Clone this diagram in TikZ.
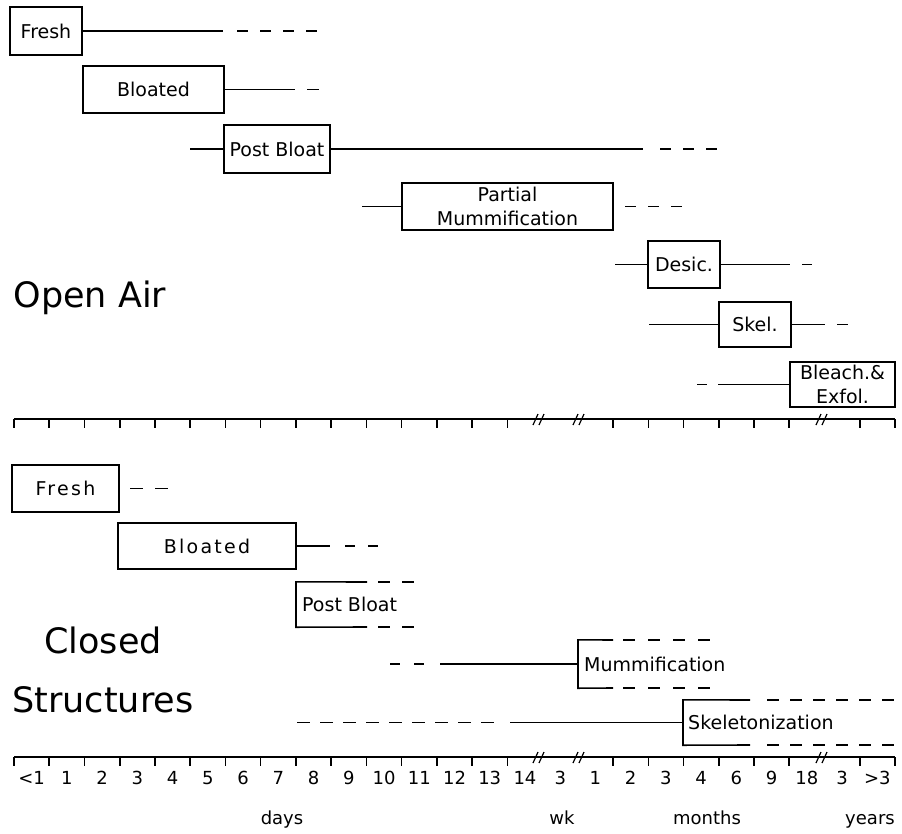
\documentclass[tikz,border=0pt]{standalone}
\usepackage{fontspec}
\setmainfont{DejaVu Sans}
\newfontfamily\spacedfont[LetterSpace=12]{DejaVu Sans}
\begin{document}
\begin{tikzpicture}[x=1pt,y=-1pt,
  box/.style={draw, line width=1.6pt, inner sep=0pt, font=\fontsize{19}{24}\selectfont, align=center},
  obox/.style={inner ysep=0pt, inner xsep=6pt, anchor=west, font=\fontsize{19}{24}\selectfont},
  boxln/.style={line width=1.6pt},
  ln/.style={line width=1.4pt},
  dsh/.style={line width=1.4pt, dash pattern=on 11pt off 12pt},
  big/.style={font=\fontsize{35}{40}\selectfont},
  lab/.style={font=\fontsize{18}{20}\selectfont, anchor=base, inner sep=0pt},
  axis/.style={line width=1.6pt}]
\useasboundingbox (0,0) rectangle (902,833);

% ---------------- Open Air ----------------
\node[big] (openair) at (90,298) {Open Air};

\node[box, minimum width=72pt, minimum height=48pt] (oFresh) at (46,31) {Fresh};
\coordinate (oFa) at (223,31); \coordinate (oFb) at (237,31); \coordinate (oFc) at (318,31);
\draw[ln] (oFresh.east) -- (oFa);
\draw[dsh] (oFb) -- (oFc);

\node[box, minimum width=141pt, minimum height=47pt] (oBloat) at (153.5,89.5) {Bloated};
\coordinate (oBa) at (295,89.5); \coordinate (oBb) at (307,89.5); \coordinate (oBc) at (319,89.5);
\draw[ln] (oBloat.east) -- (oBa);
\draw[ln] (oBb) -- (oBc);

\node[box, minimum width=106pt, minimum height=48pt] (oPost) at (277,149) {Post Bloat};
\coordinate (oPl) at (190,149); \coordinate (oPa) at (643,149); \coordinate (oPb) at (660,149); \coordinate (oPc) at (718,149);
\draw[ln] (oPl) -- (oPost.west);
\draw[ln] (oPost.east) -- (oPa);
\draw[dsh] (oPb) -- (oPc);

\node[box, minimum width=211pt, minimum height=47pt] (oPart) at (507.5,206.5) {Partial\\Mummification};
\coordinate (oMl) at (362,206.5); \coordinate (oMb) at (625,206.5); \coordinate (oMc) at (684,206.5);
\draw[ln] (oMl) -- (oPart.west);
\draw[dsh] (oMb) -- (oMc);

\node[box, minimum width=72pt, minimum height=47pt] (oDesic) at (684,264.5) {Desic.};
\coordinate (oDl) at (615,264.5); \coordinate (oDa) at (790,264.5); \coordinate (oDb) at (802,264.5); \coordinate (oDc) at (812,264.5);
\draw[ln] (oDl) -- (oDesic.west);
\draw[ln] (oDesic.east) -- (oDa);
\draw[ln] (oDb) -- (oDc);

\node[box, minimum width=72pt, minimum height=45pt] (oSkel) at (755,324.5) {Skel.};
\coordinate (oSl) at (649,324.5); \coordinate (oSa) at (825,324.5); \coordinate (oSb) at (837,324.5); \coordinate (oSc) at (848,324.5);
\draw[ln] (oSl) -- (oSkel.west);
\draw[ln] (oSkel.east) -- (oSa);
\draw[ln] (oSb) -- (oSc);

\node[box, minimum width=105pt, minimum height=45pt] (oBleach) at (842.5,384.5) {Bleach.\&\\Exfol.};
\coordinate (oEa) at (697,384.5); \coordinate (oEb) at (707,384.5); \coordinate (oEc) at (718,384.5);
\draw[ln] (oEa) -- (oEb);
\draw[ln] (oEc) -- (oBleach.west);

% ---------------- axes ----------------
\foreach \yy/\nm in {419/top,757/bot}{
  \draw[axis] (14,\yy) -- (895,\yy);
  \foreach \i in {0,...,14,17,18,19,20,21,22,24,25}
    \draw[axis] ({14+35.24*\i},\yy) -- ++(0,9);
  \foreach \bx in {540,580,823}{
    \draw[line width=1.2pt] (\bx-7,\yy+6) -- (\bx-2,\yy-5);
    \draw[line width=1.2pt] (\bx-1,\yy+6) -- (\bx+4,\yy-5);
  }
}

\foreach \i/\t in {0/{<1},1/1,2/2,3/3,4/4,5/5,6/6,7/7,8/8,9/9,10/10,11/11,12/12,13/13,14/14,15/3,16/1,17/2,18/3,19/4,20/6,21/9,22/18,23/3,24/{>3}}
  \node[lab] (t\i) at ({14+35.24*(\i+0.5)},784) {\t};

\node[lab] (days) at (282,824) {days};
\node[lab] (wk) at (562,824) {wk};
\node[lab] (months) at (707,824) {months};
\node[lab] (years) at (870,824) {years};

% ---------------- Closed Structures ----------------
\node[big] (closed) at (103,640) {Closed};
\node[big] (structures) at (103,700) {Structures};

\node[box, minimum width=107pt, minimum height=47pt, font=\fontsize{19}{24}\spacedfont] (cFresh) at (65.5,488.5) {Fresh};
\coordinate (cFa) at (130,488.5); \coordinate (cFb) at (168,488.5);
\draw[ln, dash pattern=on 13pt off 12pt] (cFa) -- (cFb);

\node[box, minimum width=178pt, minimum height=46pt, font=\fontsize{19}{24}\spacedfont] (cBloat) at (207,546) {Bloated};
\coordinate (cBa) at (330,546); \coordinate (cBb) at (345,546); \coordinate (cBc) at (379,546);
\draw[ln] (cBloat.east) -- (cBa);
\draw[ln, dash pattern=on 10pt off 13pt] (cBb) -- (cBc);

\node[obox, minimum height=45pt] (cPost) at (296,604.5) {Post Bloat};
\coordinate (cPts) at (367,582); \coordinate (cPbs) at (367,627);
\coordinate (cPtd) at (378,582); \coordinate (cPte) at (415,582);
\coordinate (cPbd) at (378,627); \coordinate (cPbe) at (415,627);
\draw[boxln] (cPts) -- (cPost.north west) -- (cPost.south west) -- (cPbs);
\draw[ln, dash pattern=on 12pt off 12pt] (cPtd) -- (cPte);
\draw[ln, dash pattern=on 12pt off 12pt] (cPbd) -- (cPbe);

\node[obox, minimum height=48pt] (cMum) at (578,664) {Mummification};
\coordinate (cMts) at (613,640); \coordinate (cMbs) at (613,688);
\coordinate (cMtd) at (623,640); \coordinate (cMte) at (710,640);
\coordinate (cMbd) at (623,688); \coordinate (cMbe) at (710,688);
\coordinate (cMl1) at (390,664); \coordinate (cMl2) at (426,664); \coordinate (cMl3) at (440,664);
\draw[boxln] (cMts) -- (cMum.north west) -- (cMum.south west) -- (cMbs);
\draw[ln, dash pattern=on 12pt off 13pt] (cMtd) -- (cMte);
\draw[ln, dash pattern=on 12pt off 13pt] (cMbd) -- (cMbe);
\draw[ln, dash pattern=on 10pt off 14pt] (cMl1) -- (cMl2);
\draw[ln] (cMl3) -- (cMum.west);

\node[obox, minimum height=45pt, inner xsep=5pt] (cSkel) at (683,722.5) {Skeletonization};
\coordinate (cSts) at (750,700); \coordinate (cSbs) at (750,745);
\coordinate (cStd) at (767,700); \coordinate (cSte) at (896,700);
\coordinate (cSbd) at (767,745); \coordinate (cSbe) at (896,745);
\coordinate (cSl1) at (297,722.5); \coordinate (cSl2) at (497,722.5); \coordinate (cSl3) at (510,722.5);
\draw[boxln] (cSts) -- (cSkel.north west) -- (cSkel.south west) -- (cSbs);
\draw[ln, dash pattern=on 12pt off 11pt] (cStd) -- (cSte);
\draw[ln, dash pattern=on 12pt off 11pt] (cSbd) -- (cSbe);
\draw[ln, dash pattern=on 13pt off 10pt] (cSl1) -- (cSl2);
\draw[ln] (cSl3) -- (cSkel.west);
\end{tikzpicture}
\end{document}
